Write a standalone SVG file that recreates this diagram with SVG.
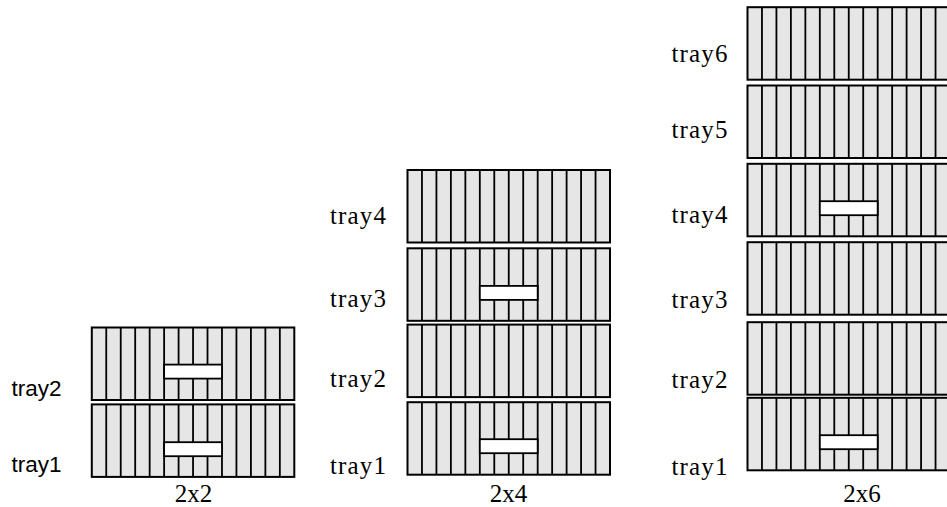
<svg xmlns="http://www.w3.org/2000/svg" xmlns:xlink="http://www.w3.org/1999/xlink" width="947" height="507" viewBox="0 0 947 507">
<style>
.box{fill:#e6e6e6;stroke:#000;stroke-width:2}
.slot{fill:none;stroke:#000;stroke-width:1.8}
.win{fill:#fff;stroke:#000;stroke-width:1.8}
.sans{font-family:"Liberation Sans",Arial,sans-serif;font-size:22.5px;fill:#000}
.serif{font-family:"Liberation Serif","Times New Roman",serif;font-size:25px;fill:#000}
.cap{font-family:"Liberation Serif","Times New Roman",serif;font-size:25px;fill:#000;text-anchor:middle}
</style>
<defs>
<g id="trayShape">
<rect class="box" x="0" y="0" width="202.5" height="72.5"/>
<path class="slot" d="M14.46 0V72.5M28.93 0V72.5M43.39 0V72.5M57.86 0V72.5M72.32 0V72.5M86.79 0V72.5M101.25 0V72.5M115.71 0V72.5M130.18 0V72.5M144.64 0V72.5M159.11 0V72.5M173.57 0V72.5M188.04 0V72.5"/>
</g>
<rect id="winShape" class="win" x="72.32" y="0" width="57.86" height="14"/>
</defs>

<g id="col-2x2">
<g id="c2-tray2"><use xlink:href="#trayShape" x="91.8" y="327.5"/><use xlink:href="#winShape" x="91.8" y="364.6"/><text class="sans" x="11.5" y="395.5">tray2</text></g>
<g id="c2-tray1"><use xlink:href="#trayShape" x="91.8" y="404.4"/><use xlink:href="#winShape" x="91.8" y="442.2"/><text class="sans" x="11.5" y="471.7">tray1</text></g>
<text id="c2-label" class="cap" x="193.5" y="501.7">2x2</text>
</g>

<g id="col-2x4">
<g id="c4-tray4"><use xlink:href="#trayShape" x="407.5" y="170"/><text class="serif" x="330" y="224" textLength="56" lengthAdjust="spacing">tray4</text></g>
<g id="c4-tray3"><use xlink:href="#trayShape" x="407.5" y="248.3"/><use xlink:href="#winShape" x="407.5" y="285.9"/><text class="serif" x="330" y="307" textLength="56" lengthAdjust="spacing">tray3</text></g>
<g id="c4-tray2"><use xlink:href="#trayShape" x="407.5" y="324.6"/><text class="serif" x="330" y="386.7" textLength="56" lengthAdjust="spacing">tray2</text></g>
<g id="c4-tray1"><use xlink:href="#trayShape" x="407.5" y="402.2"/><use xlink:href="#winShape" x="407.5" y="439.2"/><text class="serif" x="330" y="474" textLength="56" lengthAdjust="spacing">tray1</text></g>
<text id="c4-label" class="cap" x="508.5" y="501.7">2x4</text>
</g>

<g id="col-2x6">
<g id="c6-tray6"><use xlink:href="#trayShape" x="747.5" y="7.2"/><text class="serif" x="671.5" y="61.7" textLength="56" lengthAdjust="spacing">tray6</text></g>
<g id="c6-tray5"><use xlink:href="#trayShape" x="747.5" y="85.5"/><text class="serif" x="671.5" y="138.3" textLength="56" lengthAdjust="spacing">tray5</text></g>
<g id="c6-tray4"><use xlink:href="#trayShape" x="747.5" y="163.8"/><use xlink:href="#winShape" x="747.5" y="201.2"/><text class="serif" x="671.5" y="223.3" textLength="56" lengthAdjust="spacing">tray4</text></g>
<g id="c6-tray3"><use xlink:href="#trayShape" x="747.5" y="242.2"/><text class="serif" x="671.5" y="308.3" textLength="56" lengthAdjust="spacing">tray3</text></g>
<g id="c6-tray2"><use xlink:href="#trayShape" x="747.5" y="322.2"/><text class="serif" x="671.5" y="388.3" textLength="56" lengthAdjust="spacing">tray2</text></g>
<g id="c6-tray1"><use xlink:href="#trayShape" x="747.5" y="397.8"/><use xlink:href="#winShape" x="747.5" y="435.2"/><text class="serif" x="671.5" y="475" textLength="56" lengthAdjust="spacing">tray1</text></g>
<text id="c6-label" class="cap" x="862" y="501.7">2x6</text>
</g>

<g id="connectors"/>
</svg>
